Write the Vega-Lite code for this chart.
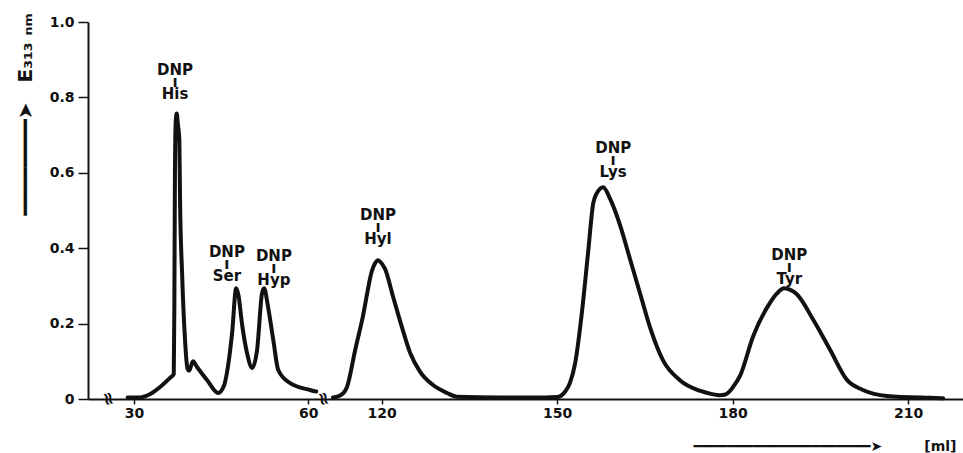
{
  "$schema": "https://vega.github.io/schema/vega-lite/v6.json",
  "width": 875,
  "height": 377,
  "autosize": {"type": "none"},
  "padding": {"left": 88, "top": 22, "right": 0, "bottom": 54},
  "background": "white",
  "config": {
    "view": {"stroke": null},
    "font": "DejaVu Sans",
    "axis": {"grid": false, "domainColor": "#111", "tickColor": "#111", "labelColor": "#111", "titleColor": "#111", "labelFont": "DejaVu Sans", "titleFont": "DejaVu Sans", "labelFontWeight": "bold", "titleFontWeight": "bold", "labelFontSize": 14, "domainWidth": 2, "tickWidth": 1.5}
  },
  "datasets": {
    "curve": [
      {"seg": "a", "ml": 28.9, "E": 0.004},
      {"seg": "a", "ml": 31.0, "E": 0.004},
      {"seg": "a", "ml": 32.8, "E": 0.013},
      {"seg": "a", "ml": 34.5, "E": 0.032},
      {"seg": "a", "ml": 36.2, "E": 0.056},
      {"seg": "a", "ml": 36.85, "E": 0.066},
      {"seg": "a", "ml": 36.95, "E": 0.25},
      {"seg": "a", "ml": 37.05, "E": 0.6},
      {"seg": "a", "ml": 37.2, "E": 0.74},
      {"seg": "a", "ml": 37.36, "E": 0.757},
      {"seg": "a", "ml": 37.55, "E": 0.73},
      {"seg": "a", "ml": 37.81, "E": 0.687},
      {"seg": "a", "ml": 37.93, "E": 0.528},
      {"seg": "a", "ml": 38.28, "E": 0.334},
      {"seg": "a", "ml": 38.79, "E": 0.156},
      {"seg": "a", "ml": 39.22, "E": 0.08},
      {"seg": "a", "ml": 39.5, "E": 0.075},
      {"seg": "a", "ml": 40.15, "E": 0.1},
      {"seg": "a", "ml": 40.85, "E": 0.085},
      {"seg": "a", "ml": 42.6, "E": 0.05},
      {"seg": "a", "ml": 44.5, "E": 0.016},
      {"seg": "a", "ml": 45.5, "E": 0.035},
      {"seg": "a", "ml": 46.0, "E": 0.069},
      {"seg": "a", "ml": 46.9, "E": 0.175},
      {"seg": "a", "ml": 47.6, "E": 0.294},
      {"seg": "a", "ml": 48.0, "E": 0.275},
      {"seg": "a", "ml": 48.6, "E": 0.2},
      {"seg": "a", "ml": 49.5, "E": 0.12},
      {"seg": "a", "ml": 50.35, "E": 0.082},
      {"seg": "a", "ml": 51.2, "E": 0.13},
      {"seg": "a", "ml": 52.05, "E": 0.28},
      {"seg": "a", "ml": 52.4, "E": 0.294},
      {"seg": "a", "ml": 53.1, "E": 0.244},
      {"seg": "a", "ml": 54.0, "E": 0.156},
      {"seg": "a", "ml": 54.85, "E": 0.077},
      {"seg": "a", "ml": 56.9, "E": 0.042},
      {"seg": "a", "ml": 60.3, "E": 0.024},
      {"seg": "a", "ml": 61.4, "E": 0.02},
      {"seg": "b", "ml": 111.7, "E": 0.004},
      {"seg": "b", "ml": 113.0, "E": 0.01},
      {"seg": "b", "ml": 113.6, "E": 0.018},
      {"seg": "b", "ml": 114.1, "E": 0.032},
      {"seg": "b", "ml": 115.5, "E": 0.13},
      {"seg": "b", "ml": 116.8, "E": 0.218},
      {"seg": "b", "ml": 118.4, "E": 0.342},
      {"seg": "b", "ml": 118.9, "E": 0.36},
      {"seg": "b", "ml": 119.4, "E": 0.368},
      {"seg": "b", "ml": 119.9, "E": 0.362},
      {"seg": "b", "ml": 120.6, "E": 0.345},
      {"seg": "b", "ml": 122.0, "E": 0.27},
      {"seg": "b", "ml": 123.5, "E": 0.19},
      {"seg": "b", "ml": 124.9, "E": 0.122},
      {"seg": "b", "ml": 126.6, "E": 0.072},
      {"seg": "b", "ml": 128.8, "E": 0.037},
      {"seg": "b", "ml": 131.2, "E": 0.016},
      {"seg": "b", "ml": 132.9, "E": 0.006},
      {"seg": "b", "ml": 140.0, "E": 0.004},
      {"seg": "b", "ml": 148.0, "E": 0.004},
      {"seg": "b", "ml": 150.0, "E": 0.005},
      {"seg": "b", "ml": 151.4, "E": 0.02},
      {"seg": "b", "ml": 152.2, "E": 0.042},
      {"seg": "b", "ml": 153.1, "E": 0.095},
      {"seg": "b", "ml": 154.3, "E": 0.236},
      {"seg": "b", "ml": 155.3, "E": 0.387},
      {"seg": "b", "ml": 156.2, "E": 0.52},
      {"seg": "b", "ml": 156.8, "E": 0.546},
      {"seg": "b", "ml": 157.9, "E": 0.562},
      {"seg": "b", "ml": 159.1, "E": 0.53},
      {"seg": "b", "ml": 160.8, "E": 0.46},
      {"seg": "b", "ml": 162.5, "E": 0.37},
      {"seg": "b", "ml": 164.2, "E": 0.28},
      {"seg": "b", "ml": 165.9, "E": 0.19},
      {"seg": "b", "ml": 168.1, "E": 0.103},
      {"seg": "b", "ml": 171.0, "E": 0.05},
      {"seg": "b", "ml": 174.4, "E": 0.022},
      {"seg": "b", "ml": 176.5, "E": 0.013},
      {"seg": "b", "ml": 177.8, "E": 0.01},
      {"seg": "b", "ml": 178.8, "E": 0.012},
      {"seg": "b", "ml": 179.5, "E": 0.02},
      {"seg": "b", "ml": 180.1, "E": 0.032},
      {"seg": "b", "ml": 181.3, "E": 0.062},
      {"seg": "b", "ml": 183.5, "E": 0.165},
      {"seg": "b", "ml": 186.4, "E": 0.255},
      {"seg": "b", "ml": 187.6, "E": 0.28},
      {"seg": "b", "ml": 188.8, "E": 0.294},
      {"seg": "b", "ml": 189.8, "E": 0.29},
      {"seg": "b", "ml": 191.0, "E": 0.278},
      {"seg": "b", "ml": 193.8, "E": 0.21},
      {"seg": "b", "ml": 196.7, "E": 0.13},
      {"seg": "b", "ml": 199.6, "E": 0.05},
      {"seg": "b", "ml": 202.3, "E": 0.024},
      {"seg": "b", "ml": 206.4, "E": 0.008},
      {"seg": "b", "ml": 213.8, "E": 0.003},
      {"seg": "b", "ml": 216.0, "E": 0.002}
    ],
    "labels": [
      {"ml": 37.07, "E": 0.86, "label": "DNP\nı\nHis"},
      {"ml": 46.0, "E": 0.377, "label": "DNP\nı\nSer"},
      {"ml": 54.1, "E": 0.366, "label": "DNP\nı\nHyp"},
      {"ml": 119.4, "E": 0.475, "label": "DNP\nı\nHyl"},
      {"ml": 159.6, "E": 0.653, "label": "DNP\nı\nLys"},
      {"ml": 189.7, "E": 0.369, "label": "DNP\nı\nTyr"}
    ],
    "breaks": [
      {"ml": 25.5, "E": 0, "sym": "≈"},
      {"ml": 86.3, "E": 0, "sym": "≈"}
    ]
  },
  "layer": [
    {
      "data": {"name": "curve"},
      "mark": {"type": "line", "color": "#111", "strokeWidth": 4, "interpolate": "monotone", "clip": false, "strokeJoin": "round", "strokeCap": "round"},
      "encoding": {
        "x": {
          "field": "ml", "type": "quantitative",
          "scale": {"domain": [22.07, 61.7, 110.85, 219.4], "range": [0, 230, 240, 875], "nice": false, "zero": false},
          "axis": {
            "values": [30, 60, 120, 150, 180, 210],
            "tickSize": 5, "labelPadding": 2,
            "title": "━━━━━━━━━━━━━━━━━━━━━➤\u2003\u2003\u2003[ml]",
            "titleFontSize": 14, "titleAlign": "left", "titleBaseline": "middle",
            "titleX": 605, "titleY": 47
          }
        },
        "y": {
          "field": "E", "type": "quantitative",
          "scale": {"domain": [0, 1], "nice": false, "zero": true},
          "axis": {
            "values": [0, 0.1, 0.2, 0.3, 0.4, 0.5, 0.6, 0.7, 0.8, 0.9, 1.0],
            "labelExpr": "round(datum.value*10)%2==0 ? (datum.value==0 ? '0' : format(datum.value,'.1f')) : ''",
            "tickSize": 10, "labelPadding": 4,
            "title": "━━━━━━━━➤\u2003E₃₁₃ ₙₘ",
            "titleFontSize": 20, "titleAngle": -90, "titleAlign": "left", "titleBaseline": "middle",
            "titleX": -63, "titleY": 193
          }
        },
        "detail": {"field": "seg"}
      }
    },
    {
      "data": {"name": "labels"},
      "mark": {"type": "text", "font": "DejaVu Sans", "fontWeight": "bold", "fontSize": 15, "lineBreak": "\n", "lineHeight": 12, "baseline": "alphabetic", "align": "center", "color": "#111"},
      "encoding": {
        "x": {"field": "ml", "type": "quantitative"},
        "y": {"field": "E", "type": "quantitative"},
        "text": {"field": "label"}
      }
    },
    {
      "data": {"name": "breaks"},
      "mark": {"type": "text", "font": "DejaVu Sans", "fontWeight": "bold", "fontSize": 18, "angle": 75, "baseline": "middle", "align": "center", "color": "#111", "clip": false},
      "encoding": {
        "x": {"field": "ml", "type": "quantitative"},
        "y": {"field": "E", "type": "quantitative"},
        "text": {"field": "sym"}
      }
    }
  ]
}
